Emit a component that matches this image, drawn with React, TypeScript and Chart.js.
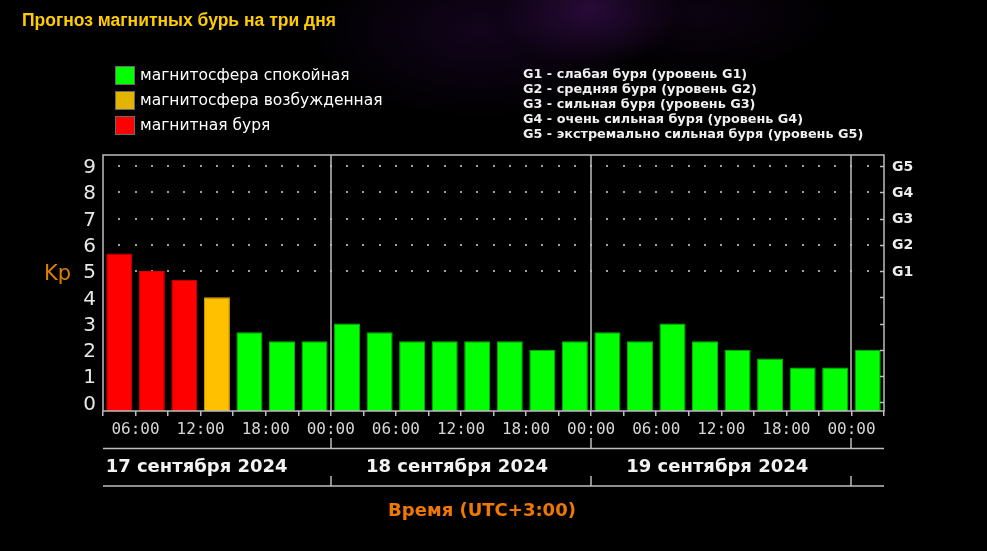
import React, { useEffect, useRef } from 'react';
import { Chart, registerables } from 'chart.js';

Chart.register(...registerables);

// ---- data ----
const SLOT_STARTS = [
  '03:00', '06:00', '09:00', '12:00', '15:00', '18:00', '21:00',
  '00:00', '03:00', '06:00', '09:00', '12:00', '15:00', '18:00', '21:00',
  '00:00', '03:00', '06:00', '09:00', '12:00', '15:00', '18:00', '21:00',
  '00:00',
];
const KP_VALUES = [
  5.67, 5, 4.67, 4, 2.67, 2.33, 2.33,
  3, 2.67, 2.33, 2.33, 2.33, 2.33, 2, 2.33,
  2.67, 2.33, 3, 2.33, 2, 1.67, 1.33, 1.33,
  2,
];
const KP_TICKS = [0, 1, 2, 3, 4, 5, 6, 7, 8, 9];
const G_LEVELS = ['G1', 'G2', 'G3', 'G4', 'G5'];
const G_KP = [5, 6, 7, 8, 9];
const DAY_LABELS = ['17 сентября 2024', '18 сентября 2024', '19 сентября 2024'];
const LEGEND_ITEMS = ['магнитосфера спокойная', 'магнитосфера возбужденная', 'магнитная буря'];
const G_DESCRIPTIONS = [
  'G1 - слабая буря (уровень G1)',
  'G2 - средняя буря (уровень G2)',
  'G3 - сильная буря (уровень G3)',
  'G4 - очень сильная буря (уровень G4)',
  'G5 - экстремально сильная буря (уровень G5)',
];
const TITLE = 'Прогноз магнитных бурь на три дня';
const Y_TITLE = 'Kp';
const X_TITLE = 'Время (UTC+3:00)';
const KP_STORM = 4.5;
const KP_ACTIVE = 4;
const Y_MIN = -0.33;
const Y_MAX = 9.42;

// ---- styles ----
const GREEN = '#00ff00';
const ORANGE = '#ffc000';
const RED = '#ff0000';
const LINE = '#bdbdbd';
const LEGEND_COLORS = ['#00ff00', '#e2b400', '#ff0000'];

const colorFor = (v: number) => (v >= KP_STORM ? RED : v >= KP_ACTIVE ? ORANGE : GREEN);
const edgeFor = (v: number) => (v >= KP_STORM ? '#d80000' : v >= KP_ACTIVE ? '#d9a000' : '#00b800');

const NSLOTS = SLOT_STARTS.length;
const BOUNDARIES = Array.from({ length: NSLOTS + 1 }, (_, i) => i);
const DAY_ENDS = SLOT_STARTS.map((t, i) => (t === '00:00' ? i : -1)).filter((i) => i >= 0);

const boundaryLabel = (v: number) => {
  if (v <= 0 || v >= NSLOTS) return '';
  const t = SLOT_STARTS[v];
  return parseInt(t, 10) % 6 === 0 ? t : '';
};

const overlay = {
  id: 'kpOverlay',
  beforeDatasetsDraw(chart: any) {
    const { ctx, chartArea: a, scales } = chart;
    const xt = scales.xt;
    const y = scales.y;
    ctx.save();
    ctx.fillStyle = '#a0a0a0';
    for (const k of G_KP) {
      const py = Math.round(y.getPixelForValue(k));
      for (let b = 0.5; b < NSLOTS; b += 0.5) {
        const px = Math.round(xt.getPixelForValue(b));
        ctx.fillRect(px - 1, py - 1, 2, 2);
      }
    }
    ctx.strokeStyle = LINE;
    ctx.lineWidth = 1.5;
    for (const d of DAY_ENDS) {
      const px = Math.round(xt.getPixelForValue(d));
      ctx.beginPath();
      ctx.moveTo(px, a.top);
      ctx.lineTo(px, a.bottom);
      ctx.stroke();
    }
    ctx.restore();
  },
  afterDraw(chart: any) {
    const { ctx, chartArea: a, scales } = chart;
    const xt = scales.xt;
    const y = scales.y;
    ctx.save();
    ctx.strokeStyle = LINE;
    ctx.lineWidth = 1.5;
    ctx.strokeRect(a.left, a.top, a.right - a.left, a.bottom - a.top);
    // inward ticks on right side
    ctx.beginPath();
    for (const k of KP_TICKS) {
      const py = Math.round(y.getPixelForValue(k)) + 0.5;
      ctx.moveTo(a.right - 4, py);
      ctx.lineTo(a.right, py);
    }
    ctx.stroke();
    const row1 = a.bottom + 37.5;
    const row2 = a.bottom + 75;
    ctx.beginPath();
    ctx.moveTo(a.left, row1);
    ctx.lineTo(a.right, row1);
    ctx.moveTo(a.left, row2);
    ctx.lineTo(a.right, row2);
    for (const d of DAY_ENDS) {
      const px = Math.round(xt.getPixelForValue(d));
      ctx.moveTo(px, a.bottom + 27);
      ctx.lineTo(px, row1);
      ctx.moveTo(px, row2 - 10);
      ctx.lineTo(px, row2);
    }
    ctx.stroke();
    ctx.fillStyle = '#f2f2f2';
    ctx.font = 'bold 18px "DejaVu Sans"';
    ctx.textAlign = 'center';
    ctx.textBaseline = 'middle';
    DAY_LABELS.forEach((label, i) => {
      const end = DAY_ENDS[i];
      const px = xt.getPixelForValue(end - 4) - 4;
      ctx.fillText(label, px, a.bottom + 56);
    });
    ctx.restore();
  },
};

export default function App() {
  const ref = useRef<HTMLCanvasElement>(null);

  useEffect(() => {
    const canvas = ref.current;
    if (!canvas) return;
    const chart = new Chart(canvas, {
      type: 'bar',
      data: {
        labels: SLOT_STARTS,
        datasets: [
          {
            data: KP_VALUES,
            base: Y_MIN,
            backgroundColor: KP_VALUES.map(colorFor),
            borderColor: KP_VALUES.map(edgeFor),
            borderWidth: 1,
            barPercentage: 0.8,
            categoryPercentage: 1,
            xAxisID: 'x',
            yAxisID: 'y',
          } as any,
        ],
      },
      options: {
        responsive: false,
        animation: false,
        layout: { padding: { left: 0, right: 0, top: 155, bottom: 0 } },
        plugins: { legend: { display: false }, tooltip: { enabled: false } },
        scales: {
          x: { type: 'category', display: false, offset: true },
          xt: {
            type: 'linear',
            position: 'bottom',
            offset: false,
            min: 0,
            max: NSLOTS,
            afterBuildTicks: (s: any) => {
              s.ticks = BOUNDARIES.map((v) => ({ value: v }));
            },
            afterFit: (s: any) => {
              s.height = 140;
            },
            grid: { offset: false, drawOnChartArea: false, drawTicks: true, tickLength: 5, color: LINE, lineWidth: 1.5 },
            border: { display: false },
            ticks: {
              autoSkip: false,
              maxRotation: 0,
              minRotation: 0,
              padding: 4,
              color: '#d6d6d6',
              font: { family: '"DejaVu Sans Mono"', size: 16 },
              callback: (v: any) => boundaryLabel(Number(v)),
            },
          },
          y: {
            type: 'linear',
            position: 'left',
            min: Y_MIN,
            max: Y_MAX,
            afterBuildTicks: (s: any) => {
              s.ticks = KP_TICKS.map((v) => ({ value: v }));
            },
            afterFit: (s: any) => {
              s.width = 103;
            },
            grid: { display: false, drawTicks: false },
            border: { display: false },
            ticks: {
              padding: 7,
              labelOffset: 2,
              color: '#e8e8e8',
              font: { family: '"DejaVu Sans"', size: 20 },
              callback: (v: any) => String(v),
            },
          },
          y2: {
            type: 'linear',
            position: 'right',
            min: Y_MIN,
            max: Y_MAX,
            afterBuildTicks: (s: any) => {
              s.ticks = G_KP.map((v) => ({ value: v }));
            },
            afterFit: (s: any) => {
              s.width = 103;
            },
            grid: { display: false, drawTicks: false },
            border: { display: false },
            ticks: {
              padding: 8,
              labelOffset: 1,
              color: '#ececec',
              font: { family: '"DejaVu Sans"', size: 14, weight: 'bold' },
              callback: (_v: any, i: number) => G_LEVELS[i],
            },
          },
        },
      } as any,
      plugins: [overlay],
    });
    return () => chart.destroy();
  }, []);

  const text = (extra: React.CSSProperties): React.CSSProperties => ({
    position: 'absolute',
    whiteSpace: 'nowrap',
    margin: 0,
    ...extra,
  });

  return (
    <div
      style={{
        position: 'fixed',
        left: 0,
        top: 0,
        width: 987,
        height: 551,
        overflow: 'hidden',
        background:
          'radial-gradient(ellipse 90px 60px at 590px 8px, rgba(80,20,110,0.45), rgba(0,0,0,0)), radial-gradient(ellipse 170px 90px at 480px 30px, rgba(45,10,70,0.4), rgba(0,0,0,0)), radial-gradient(ellipse 140px 60px at 700px 15px, rgba(35,8,50,0.35), rgba(0,0,0,0)), #000',
      }}
    >
      <canvas ref={ref} width={987} height={551} style={{ position: 'absolute', left: 0, top: 0 }} />
      <div
        style={text({
          left: 22,
          top: 10,
          lineHeight: '20px',
          font: 'bold 17.5px "Liberation Sans"',
          color: '#ffcc00',
        })}
      >
        {TITLE}
      </div>
      {LEGEND_ITEMS.map((label, i) => (
        <React.Fragment key={label}>
          <div
            style={{
              position: 'absolute',
              left: 115,
              top: 66 + i * 25,
              width: 18,
              height: 17,
              background: LEGEND_COLORS[i],
              border: '1px solid #6a6a6a',
            }}
          />
          <div
            style={text({
              left: 140,
              top: 66 + i * 25,
              lineHeight: '20px',
              font: '15.5px "DejaVu Sans"',
              color: '#ffffff',
            })}
          >
            {label}
          </div>
        </React.Fragment>
      ))}
      {G_DESCRIPTIONS.map((d, i) => (
        <div
          key={d}
          style={text({
            left: 523,
            top: 66 + i * 15,
            lineHeight: '16px',
            font: 'bold 12.8px "DejaVu Sans"',
            color: '#f0f0f0',
          })}
        >
          {d}
        </div>
      ))}
      <div
        style={text({
          left: 44,
          top: 261,
          lineHeight: '26px',
          font: '21px "DejaVu Sans"',
          color: '#dd8000',
        })}
      >
        {Y_TITLE}
      </div>
      <div
        style={text({
          left: 482,
          top: 499,
          lineHeight: '22px',
          transform: 'translateX(-50%)',
          font: 'bold 18px "DejaVu Sans"',
          color: '#f07800',
        })}
      >
        {X_TITLE}
      </div>
    </div>
  );
}
